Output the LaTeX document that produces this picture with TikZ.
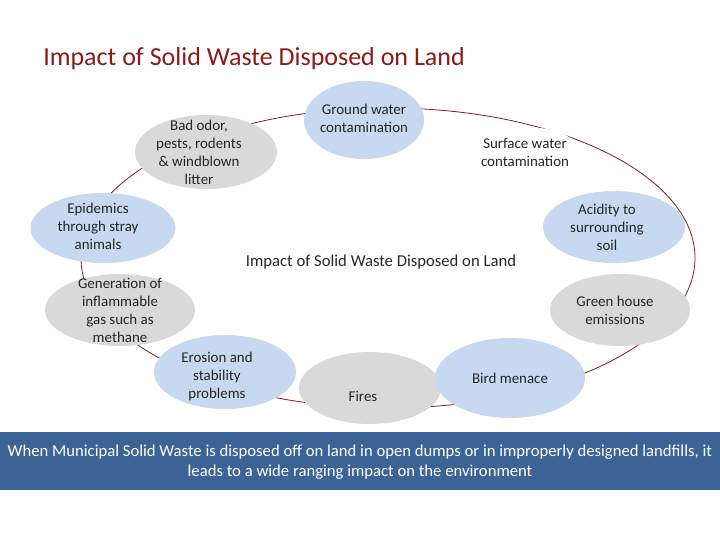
\documentclass[tikz,border=0pt]{standalone}
\usepackage{fontspec}
\setmainfont{Carlito}
\usetikzlibrary{shapes.geometric}
\definecolor{lb}{HTML}{C6D9F1}
\definecolor{gr}{HTML}{D9D9D9}
\definecolor{ring}{HTML}{8B1A1A}
\definecolor{ban}{HTML}{3B6396}
\begin{document}
\begin{tikzpicture}[x=0.75pt,y=-0.75pt,
  shp/.style={ellipse,inner sep=0pt,outer sep=0pt},
  txt/.style={inner sep=0pt,align=center,font=\fontsize{11.2}{13.5}\selectfont,text=black!85},
  blue/.style={shp,fill=lb},
  grey/.style={shp,fill=gr}]
\useasboundingbox (0,0) rectangle (720,540);
\fill[white] (0,0) rectangle (720,540);
\node[anchor=west,inner sep=0pt,text=ring,font=\fontsize{19.5}{22}\selectfont] (title) at (43,59) {Impact of Solid Waste Disposed on Land};
\draw[ring,line width=0.6pt] (388,258) ellipse [x radius=307,y radius=150];
\node[blue,minimum width=0.75*120pt,minimum height=0.75*78pt] (gw) at (364,120) {};
\node[txt] at (364,118) {Ground water\\contamination};
\node[grey,minimum width=0.75*142pt,minimum height=0.75*74pt] (bo) at (206,152) {};
\node[txt] at (199,152) {Bad odor,\\pests, rodents\\\& windblown\\litter};
\node[shp,fill=white,minimum width=0.75*110pt,minimum height=0.75*50pt] (sw) at (525,152) {};
\node[txt] at (525,152) {Surface water\\contamination};
\node[blue,minimum width=0.75*145pt,minimum height=0.75*70pt] (ep) at (103,228) {};
\node[txt] at (98,226) {Epidemics\\through stray\\animals};
\node[blue,minimum width=0.75*142pt,minimum height=0.75*72pt] (ac) at (614,227) {};
\node[txt] at (607,227) {Acidity to\\surrounding\\soil};
\node[grey,minimum width=0.75*150pt,minimum height=0.75*72pt] (ge) at (120,310) {};
\node[txt] at (120,310) {Generation of\\inflammable\\gas such as\\methane};
\node[grey,minimum width=0.75*140pt,minimum height=0.75*72pt] (gh) at (620,310) {};
\node[txt] at (615,310) {Green house\\emissions};
\node[blue,minimum width=0.75*142pt,minimum height=0.75*74pt] (er) at (225,372) {};
\node[txt] at (217,377) {Erosion and\\stability\\problems};
\node[grey,minimum width=0.75*142pt,minimum height=0.75*72pt] (fi) at (370,388) {};
\node[txt] at (363,396) {Fires};
\node[blue,minimum width=0.75*150pt,minimum height=0.75*80pt] (bm) at (510,378) {};
\node[txt] at (510,378) {Bird menace};
\node[font=\fontsize{12.5}{15}\selectfont,text=black!85] (ctr) at (381,262) {Impact of Solid Waste Disposed on Land};
\fill[ban] (0,432) rectangle (720,490);
\node[text=white,align=center,font=\fontsize{12.5}{15}\selectfont] (bt) at (360,462) {When Municipal Solid Waste is disposed off on land in open dumps or in improperly designed landfills, it\\leads to a wide ranging impact on the environment};
\end{tikzpicture}
\end{document}
